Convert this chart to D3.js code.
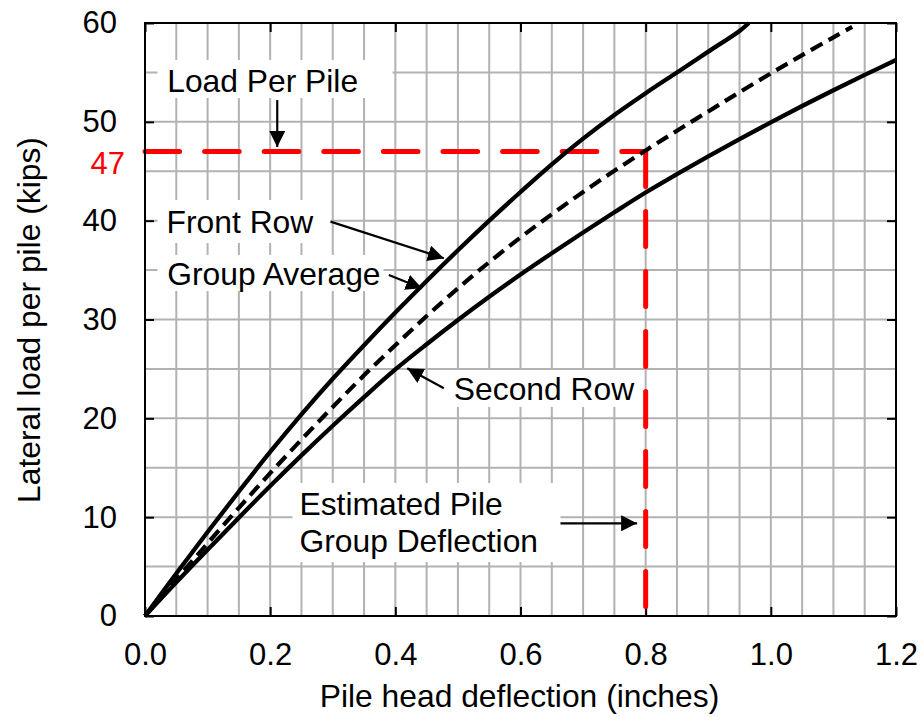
<!DOCTYPE html>
<html>
<head>
<meta charset="utf-8">
<script src="https://cdn.jsdelivr.net/npm/d3@7"></script>
<style>
  html, body { margin: 0; padding: 0; background: #fff; }
  svg { display: block; font-family: "Liberation Sans", Arial, sans-serif; }
</style>
</head>
<body>
<svg id="chart" width="922" height="717"></svg>
<script>
// Load-deflection curves for a laterally loaded pile group
const frontRowDefl = [0, 0.05, 0.1, 0.15, 0.2, 0.25, 0.3, 0.35, 0.4, 0.45, 0.5, 0.55, 0.6, 0.65, 0.7, 0.75, 0.8, 0.85, 0.9, 0.95, 0.965];
const frontRowLoad = [0, 4.3, 8.5, 12.6, 16.6, 20.4, 24.0, 27.4, 30.7, 33.9, 37.0, 40.0, 42.9, 45.7, 48.3, 50.7, 52.9, 55.0, 57.1, 59.2, 60];

const secondRowDefl = [0, 0.05, 0.1, 0.15, 0.2, 0.25, 0.3, 0.35, 0.4, 0.45, 0.5, 0.55, 0.6, 0.65, 0.7, 0.75, 0.8, 0.85, 0.9, 0.95, 1.0, 1.05, 1.1, 1.15, 1.2];
const secondRowLoad = [0, 3.4, 6.7, 9.95, 13.15, 16.25, 19.25, 22.15, 24.95, 27.5, 29.95, 32.3, 34.55, 36.7, 38.8, 40.85, 42.85, 44.7, 46.5, 48.25, 49.95, 51.6, 53.2, 54.75, 56.25];

const groupAvgDefl = [0, 0.05, 0.1, 0.15, 0.2, 0.25, 0.3, 0.35, 0.4, 0.45, 0.5, 0.55, 0.6, 0.65, 0.7, 0.75, 0.8, 0.85, 0.9, 0.95, 1.0, 1.05, 1.1, 1.13];
const groupAvgLoad = [0, 3.7, 7.35, 10.95, 14.45, 17.85, 21.15, 24.35, 27.4, 30.35, 33.15, 35.8, 38.3, 40.65, 42.9, 45.05, 47.1, 49.1, 51.05, 53.0, 54.9, 56.75, 58.55, 59.6];

// Design load per pile and the resulting group deflection
const designLoad = 47;
const designDeflection = 0.8;

const xTickValues = [0, 0.2, 0.4, 0.6, 0.8, 1.0, 1.2];
const yTickValues = [0, 10, 20, 30, 40, 50, 60];

const svg = d3.select("#chart");
const margin = { top: 23, right: 26, bottom: 101, left: 145 };
const W = 922 - margin.left - margin.right;
const H = 717 - margin.top - margin.bottom;
const FONT = 31;
const LABEL_FONT = 31.8;

const x = d3.scaleLinear().domain([0, 1.2]).range([0, W]);
const y = d3.scaleLinear().domain([0, 60]).range([H, 0]);

const g = svg.append("g").attr("transform", `translate(${margin.left},${margin.top})`);

// Grid: every 0.05 in and every 5 kips
g.append("g").selectAll("line").data(d3.range(1, 24).map(i => i * 0.05)).join("line")
  .attr("x1", d => x(d)).attr("x2", d => x(d)).attr("y1", 0).attr("y2", H)
  .attr("stroke", "#b2b2b2").attr("stroke-width", 2);
g.append("g").selectAll("line").data(d3.range(1, 12).map(i => i * 5)).join("line")
  .attr("y1", d => y(d)).attr("y2", d => y(d)).attr("x1", 0).attr("x2", W)
  .attr("stroke", "#b2b2b2").attr("stroke-width", 2);

// Axes with inward ticks
const styleAxis = sel => {
  sel.select(".domain").remove();
  sel.selectAll(".tick line").attr("stroke", "#000").attr("stroke-width", 2);
  sel.selectAll(".tick text").attr("font-size", FONT).attr("fill", "#000")
     .attr("font-family", "Liberation Sans, Arial, sans-serif");
};
g.append("g").attr("transform", `translate(0,${H})`)
  .call(d3.axisBottom(x).tickValues(xTickValues).tickFormat(d3.format(".1f")).tickSize(-9).tickPadding(27))
  .call(styleAxis);
g.append("g")
  .call(d3.axisTop(x).tickValues(xTickValues).tickFormat("").tickSize(-9))
  .call(styleAxis);
g.append("g")
  .call(d3.axisLeft(y).tickValues(yTickValues).tickSize(-9).tickPadding(28))
  .call(styleAxis);
g.append("g").attr("transform", `translate(${W},0)`)
  .call(d3.axisRight(y).tickValues(yTickValues).tickFormat("").tickSize(-9))
  .call(styleAxis);

// Annotation label boxes (white backgrounds over the grid)
const labelBoxes = [
  { x0: 0.020, x1: 0.3955, y0: 56.26, y1: 52.41 },
  { x0: 0.020, x1: 0.2964, y0: 42.09, y1: 37.74 },
  { x0: 0.020, x1: 0.3811, y0: 36.53, y1: 32.88 },
  { x0: 0.4722, x1: 0.7934, y0: 24.89, y1: 21.15 },
  { x0: 0.2357, x1: 0.6639, y0: 13.46, y1: 5.46 }
];
g.append("g").selectAll("rect").data(labelBoxes).join("rect")
  .attr("x", d => x(d.x0)).attr("y", d => y(d.y0))
  .attr("width", d => x(d.x1) - x(d.x0)).attr("height", d => y(d.y1) - y(d.y0))
  .attr("fill", "#fff");

// Design load and deflection guide lines
g.append("line")
  .attr("x1", x(0)).attr("x2", x(designDeflection)).attr("y1", y(designLoad)).attr("y2", y(designLoad))
  .attr("stroke", "#ff0000").attr("stroke-width", 5).attr("stroke-linecap", "round")
  .attr("stroke-dasharray", "34.6,25");
g.append("line")
  .attr("x1", x(designDeflection)).attr("x2", x(designDeflection)).attr("y1", y(designLoad)).attr("y2", y(0))
  .attr("stroke", "#ff0000").attr("stroke-width", 5).attr("stroke-linecap", "round")
  .attr("stroke-dasharray", "35,25");

// Curves
const line = d3.line().x(d => x(d[0])).y(d => y(d[1])).curve(d3.curveCatmullRom.alpha(0.5));
const zip = (a, b) => a.map((v, i) => [v, b[i]]);

g.append("path").datum(zip(secondRowDefl, secondRowLoad)).attr("d", line)
  .attr("fill", "none").attr("stroke", "#000").attr("stroke-width", 4.3);
g.append("path").datum(zip(frontRowDefl, frontRowLoad)).attr("d", line)
  .attr("fill", "none").attr("stroke", "#000").attr("stroke-width", 4.3);
g.append("path").datum(zip(groupAvgDefl, groupAvgLoad)).attr("d", line)
  .attr("fill", "none").attr("stroke", "#000").attr("stroke-width", 4.2)
  .attr("stroke-dasharray", "13,7");

// Annotation arrows
const defs = svg.append("defs");
defs.append("marker").attr("id", "arrowhead")
  .attr("viewBox", "0 0 16 16").attr("refX", 16).attr("refY", 8)
  .attr("markerWidth", 16).attr("markerHeight", 16).attr("markerUnits", "userSpaceOnUse")
  .attr("orient", "auto")
  .append("path").attr("d", "M0,0 L16,8 L0,16 Z").attr("fill", "#000");

const arrows = [
  { x0: 0.2113, y0: 52.2, x1: 0.2113, y1: 47.45 },
  { x0: 0.2964, y0: 39.9, x1: 0.4775, y1: 36.2 },
  { x0: 0.3896, y0: 34.5, x1: 0.4424, y1: 33.16 },
  { x0: 0.4775, y0: 23.04, x1: 0.419, y1: 25.07 },
  { x0: 0.6639, y0: 9.38, x1: 0.7864, y1: 9.38 }
];
g.append("g").selectAll("line").data(arrows).join("line")
  .attr("x1", d => x(d.x0)).attr("y1", d => y(d.y0))
  .attr("x2", d => x(d.x1)).attr("y2", d => y(d.y1))
  .attr("stroke", "#000").attr("stroke-width", 2.2)
  .attr("marker-end", "url(#arrowhead)");

// Annotation text
const labels = [
  { text: "Load Per Pile", dx: 0.0355, load: 53.03 },
  { text: "Front Row", dx: 0.0345, load: 38.72 },
  { text: "Group Average", dx: 0.0355, load: 33.49 },
  { text: "Second Row", dx: 0.4935, load: 21.86 },
  { text: "Estimated Pile", dx: 0.2468, load: 10.22 },
  { text: "Group Deflection", dx: 0.2468, load: 6.51 }
];
g.append("g").selectAll("text").data(labels).join("text")
  .attr("x", d => x(d.dx)).attr("y", d => y(d.load))
  .attr("font-size", LABEL_FONT).attr("fill", "#000")
  .text(d => d.text);

// Design load value on the y axis
g.append("text")
  .attr("x", -20).attr("y", y(designLoad) + 23)
  .attr("text-anchor", "end").attr("font-size", FONT).attr("fill", "#ff0000")
  .text(designLoad);

// Plot frame
g.append("rect").attr("x", 0).attr("y", 0).attr("width", W).attr("height", H)
  .attr("fill", "none").attr("stroke", "#000").attr("stroke-width", 2);

// Axis titles
svg.append("text")
  .attr("x", margin.left + x(0.6) - 1).attr("y", 707)
  .attr("text-anchor", "middle").attr("font-size", LABEL_FONT).attr("fill", "#000")
  .text("Pile head deflection (inches)");
svg.append("text")
  .attr("transform", "translate(40,320) rotate(-90)")
  .attr("text-anchor", "middle").attr("font-size", LABEL_FONT).attr("fill", "#000")
  .text("Lateral load per pile (kips)");
</script>
</body>
</html>
